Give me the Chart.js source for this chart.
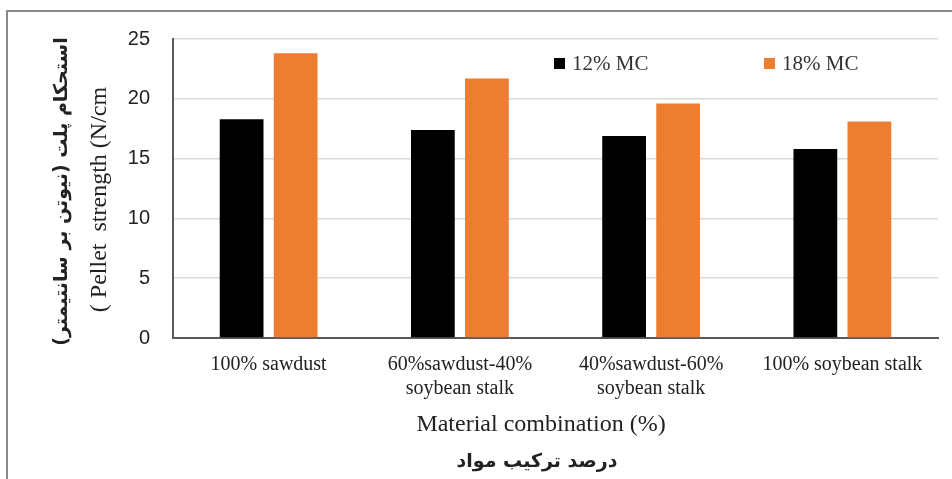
<!DOCTYPE html>
<html>
<head>
<meta charset="utf-8">
<script src="https://cdn.jsdelivr.net/npm/chart.js@4.4.1/dist/chart.umd.min.js"></script>
<style>
  html, body { margin: 0; padding: 0; background: #fff; }
  #wrap { position: relative; width: 952px; height: 479px; overflow: hidden; }
  #frame {
    position: absolute; left: 6px; top: 10px; width: 1000px; height: 600px;
    border-top: 2px solid #8a8a8a; border-left: 2px solid #8a8a8a;
  }
  #chart { position: absolute; left: 0; top: 0; }
</style>
</head>
<body>
<div id="wrap">
  <div id="frame"></div>
  <canvas id="chart" width="952" height="479"></canvas>
</div>
<script>
// categories and values
const categories = [
  "100% sawdust",
  ["60%sawdust-40%", "soybean stalk"],
  ["40%sawdust-60%", "soybean stalk"],
  "100% soybean stalk",
];
const seriesNames = ["12% MC", "18% MC"];
const mc12 = [18.3, 17.4, 16.9, 15.8];
const mc18 = [23.8, 21.7, 19.6, 18.1];
const seriesColors = ["#000000", "#ED7D31"];

const xTitle = "Material combination (%)";
const xTitleFa = "درصد ترکیب مواد";
const yTitleFa = "استحکام پلت (نیوتن بر سانتیمتر)";
const yTitleEn = "( Pellet  strength (N/cm";

const SERIF = "'Liberation Serif', 'Times New Roman', serif";
const SANS = "'Liberation Sans', Arial, sans-serif";
const FA = "'DejaVu Sans', sans-serif";

// legend drawn inside the plot area, like the original
const legendInside = {
  id: "legendInside",
  afterDraw(chart) {
    const ctx = chart.ctx;
    const area = chart.chartArea;
    const xs = [area.left + 381, area.left + 591];
    ctx.save();
    ctx.font = "21px " + SERIF;
    ctx.textBaseline = "middle";
    ctx.textAlign = "left";
    chart.data.datasets.forEach((ds, i) => {
      ctx.fillStyle = ds.backgroundColor;
      ctx.fillRect(xs[i], area.top + 19, 11, 11);
      ctx.fillStyle = "#333";
      ctx.fillText(ds.label, xs[i] + 18, area.top + 25);
    });
    ctx.restore();
  },
};

// axis titles (English + Persian lines)
const axisTitles = {
  id: "axisTitles",
  afterDraw(chart) {
    const ctx = chart.ctx;
    const area = chart.chartArea;
    ctx.save();
    ctx.fillStyle = "#222";
    ctx.textAlign = "center";
    ctx.textBaseline = "middle";

    const cx = 541;
    ctx.font = "24px " + SERIF;
    ctx.fillText(xTitle, cx, 425);
    ctx.font = "bold 19px " + FA;
    ctx.direction = "rtl";
    ctx.fillText(xTitleFa, 537, 462);

    const cy = (area.top + area.bottom) / 2;
    ctx.translate(62, cy + 3);
    ctx.rotate(-Math.PI / 2);
    ctx.font = "bold 19px " + FA;
    ctx.fillText(yTitleFa, 0, 0);
    ctx.direction = "ltr";
    ctx.font = "24px " + SERIF;
    ctx.fillText(yTitleEn, -8, 38);
    ctx.restore();
  },
};

new Chart(document.getElementById("chart"), {
  type: "bar",
  data: {
    labels: categories,
    datasets: [
      { label: seriesNames[0], data: mc12, backgroundColor: seriesColors[0] },
      { label: seriesNames[1], data: mc18, backgroundColor: seriesColors[1] },
    ],
  },
  options: {
    responsive: false,
    animation: false,
    layout: { padding: { top: 39, right: 14, left: 0, bottom: 0 } },
    datasets: { bar: { categoryPercentage: 0.565, barPercentage: 0.81 } },
    plugins: { legend: { display: false }, tooltip: { enabled: false } },
    scales: {
      x: {
        grid: { display: false, drawTicks: false },
        border: { color: "#595959", width: 2 },
        ticks: {
          color: "#222",
          font: { family: SERIF, size: 20 },
          padding: 15,
          maxRotation: 0,
          autoSkip: false,
        },
        afterFit(scale) { scale.height = 141; },
      },
      y: {
        min: 0,
        max: 25,
        grid: { color: "#d9d9d9", lineWidth: 1.5, drawTicks: false },
        border: { color: "#595959", width: 2 },
        ticks: {
          stepSize: 5,
          color: "#222",
          font: { family: SANS, size: 20 },
          padding: 23,
        },
        afterFit(scale) { scale.width = 173; },
      },
    },
  },
  plugins: [legendInside, axisTitles],
});
</script>
</body>
</html>
